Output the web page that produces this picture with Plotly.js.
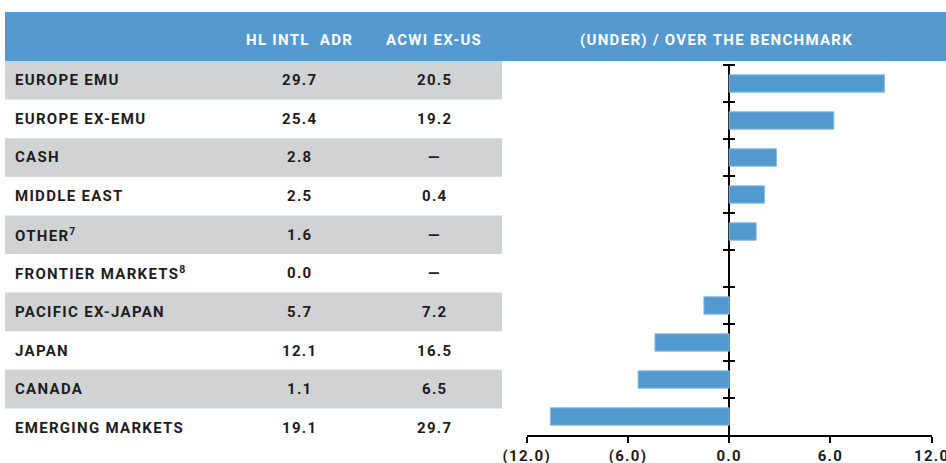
<!DOCTYPE html>
<html>
<head>
<meta charset="utf-8">
<script src="https://cdn.plot.ly/plotly-3.0.1.min.js"></script>
<style>
html,body{margin:0;padding:0;background:#fff;}
#chart{width:946px;height:463px;}
svg text{letter-spacing:1.3px;}
</style>
</head>
<body>
<div id="chart"></div>
<script>
// ---- data ----
const regionLabels = ['EUROPE EMU','EUROPE EX-EMU','CASH','MIDDLE EAST','OTHER<sup>7</sup>','FRONTIER MARKETS<sup>8</sup>','PACIFIC EX-JAPAN','JAPAN','CANADA','EMERGING MARKETS'];
const regionKeys = ['EUROPE EMU','EUROPE EX-EMU','CASH','MIDDLE EAST','OTHER','FRONTIER MARKETS','PACIFIC EX-JAPAN','JAPAN','CANADA','EMERGING MARKETS'];
const hlIntlAdr = ['29.7','25.4','2.8','2.5','1.6','0.0','5.7','12.1','1.1','19.1'];
const acwiExUs = ['20.5','19.2','—','0.4','—','—','7.2','16.5','6.5','29.7'];
const overUnder = [9.2, 6.2, 2.8, 2.1, 1.6, 0.0, -1.5, -4.4, -5.4, -10.6];
const headers = ['HL INTL  ADR','ACWI EX-US','(UNDER) / OVER THE BENCHMARK'];
const xTickVals = [-12, -6, 0, 6, 12];
const xTickText = ['(12.0)','(6.0)','0.0','6.0','12.0'];

// ---- layout helpers (pixel -> paper) ----
const W = 946, H = 463;
const px = v => v / W;
const py = v => 1 - v / H;
const BLUE = '#5499cf';
const GREY = '#d1d2d4';
const INK = '#1e1c1d';
const FONT = 'Roboto, "DejaVu Sans", sans-serif';

const headTop = 12, headBot = 61, rowH = 38.6;
const tableLeft = 5, tableRight = 502;
const col1X = 299, col2X = 434, labelX = 12.7;

const shapes = [{
  type:'rect', xref:'paper', yref:'paper', layer:'below',
  x0: px(tableLeft), x1: 1, y0: py(headBot), y1: py(headTop),
  fillcolor: BLUE, line:{width:0}
}];
const annotations = [];
regionLabels.forEach((lab, i) => {
  const top = headBot + i * rowH, mid = top + rowH / 2;
  if (i % 2 === 0) {
    shapes.push({type:'rect', xref:'paper', yref:'paper', layer:'below',
      x0: px(tableLeft), x1: px(tableRight), y0: py(top + rowH), y1: py(top),
      fillcolor: GREY, line:{width:0}});
  }
  const f = {family: FONT, size: 15, color: INK, weight: 700};
  annotations.push({xref:'paper', yref:'paper', x: px(labelX), y: py(mid), xanchor:'left', yanchor:'middle',
    text: lab, showarrow:false, font: f});
  annotations.push({xref:'paper', yref:'paper', x: px(col1X), y: py(mid), xanchor:'center', yanchor:'middle',
    text: hlIntlAdr[i], showarrow:false, font: f});
  annotations.push({xref:'paper', yref:'paper', x: px(col2X), y: py(mid), xanchor:'center', yanchor:'middle',
    text: acwiExUs[i], showarrow:false, font: f});
});
const hf = {family: FONT, size: 15, color: '#ffffff', weight: 700};
const headMid = 39.5;
[[col1X, headers[0]], [col2X, headers[1]], [716, headers[2]]].forEach(([x, t]) => {
  annotations.push({xref:'paper', yref:'paper', x: px(x), y: py(headMid), xanchor:'center', yanchor:'middle',
    text: t, showarrow:false, font: hf});
});

const plotLeft = 526.7, plotRight = 931.7, plotTop = 65, plotBot = 435;

const trace = {
  type:'bar', orientation:'h',
  x: overUnder, y: regionKeys,
  width: 0.47,
  marker: {color: '#5299d0', line: {color: '#8dbde3', width: overUnder.map(v => v === 0 ? 0 : 1)}},
  hoverinfo: 'skip'
};

const layout = {
  width: W, height: H,
  margin: {l:0, r:0, t:0, b:0},
  paper_bgcolor: '#ffffff', plot_bgcolor: 'rgba(0,0,0,0)',
  showlegend: false,
  xaxis: {
    domain: [px(plotLeft), px(plotRight)],
    range: [-12, 12],
    tickmode: 'array', tickvals: xTickVals, ticktext: xTickText,
    ticklabeloverflow: 'allow',
    showgrid: false,
    zeroline: true, zerolinecolor: '#000000', zerolinewidth: 2,
    showline: true, linecolor: '#000000', linewidth: 2,
    ticks: 'outside', ticklen: 6, tickwidth: 2, tickcolor: '#000000',
    tickfont: {family: FONT, size: 15, color: INK, weight: 700},
    anchor: 'y', fixedrange: true
  },
  yaxis: {
    domain: [py(plotBot), py(plotTop)],
    type: 'category', categoryorder: 'array', categoryarray: regionKeys,
    range: [9.5, -0.5],
    showgrid: false, zeroline: false, showline: false,
    showticklabels: false,
    tickson: 'boundaries',
    ticks: 'outside', ticklen: 12, tickwidth: 2, tickcolor: '#000000',
    anchor: 'free', position: px(735),
    fixedrange: true
  },
  shapes: shapes,
  annotations: annotations
};

Plotly.newPlot('chart', [trace], layout, {displayModeBar:false, staticPlot:true});
</script>
</body>
</html>
